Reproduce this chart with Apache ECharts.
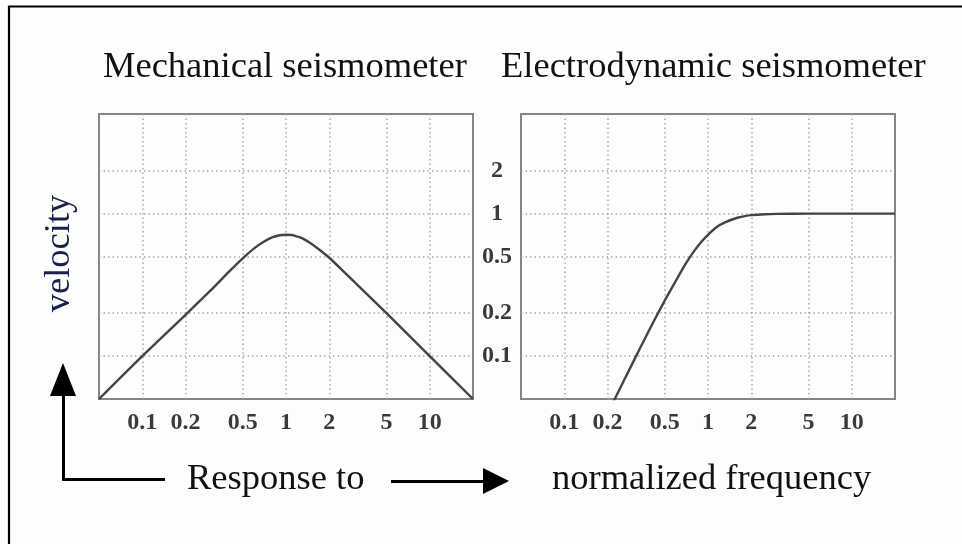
<!DOCTYPE html>
<html>
<head>
<meta charset="utf-8">
<title>Seismometer response</title>
<script src="https://cdn.jsdelivr.net/npm/echarts@6/dist/echarts.min.js"></script>
<style>
  html, body { margin: 0; padding: 0; background: #fdfdfd; }
  #chart { width: 962px; height: 544px; }
</style>
</head>
<body>
<div id="chart"></div>
<script>
// normalized frequency / velocity response
const freqMech = [0.05, 0.1, 0.2, 0.3, 0.4, 0.5, 0.6, 0.7, 0.8, 0.9, 1, 1.1, 1.2, 1.3, 1.5, 1.7, 2, 2.5, 3, 5, 10, 20]
const velMech = [0.05, 0.1, 0.195, 0.29, 0.39, 0.485, 0.57, 0.635, 0.68, 0.705, 0.71, 0.708, 0.69, 0.67, 0.615, 0.56, 0.49, 0.395, 0.33, 0.2, 0.1, 0.05]

const freqElec = [0.22, 0.3, 0.4, 0.5, 0.6, 0.7, 0.8, 0.9, 1, 1.15, 1.3, 1.6, 1.8, 2, 2.5, 3, 5, 10, 20]
const velElec = [0.048, 0.09, 0.16, 0.245, 0.34, 0.445, 0.545, 0.635, 0.71, 0.805, 0.865, 0.935, 0.96, 0.975, 0.99, 0.995, 1, 1, 1]

const xTicks = [0.1, 0.2, 0.5, 1, 2, 5, 10]
const yTicks = [0.1, 0.2, 0.5, 1, 2]

const titles = ['Mechanical seismometer', 'Electrodynamic seismometer']
const yName = 'velocity'
const xNameLeft = 'Response to'
const xNameRight = 'normalized frequency'

const serif = '"Liberation Serif", "DejaVu Serif", serif'
const bigFont = '36.5px ' + serif
const lineColor = '#444'

function pairs (xs, ys) {
  return xs.map((x, i) => [x, ys[i]])
}

function tickLabel (show, extra) {
  return Object.assign({
    show: show,
    fontFamily: serif,
    fontSize: 24,
    fontWeight: 'bold',
    color: '#3a3a3a'
  }, extra)
}

const dotted = { color: '#a8a8a8', width: 1.5, type: [1.5, 3] }

function makeX (idx) {
  return {
    type: 'log',
    logBase: 10,
    gridIndex: idx,
    min: 0.05,
    max: 20,
    axisLine: { show: false },
    axisTick: { show: false, customValues: xTicks },
    axisLabel: tickLabel(true, { customValues: xTicks, margin: 12 }),
    splitLine: { show: true, lineStyle: dotted }
  }
}

function makeY (idx, showLabels) {
  return {
    type: 'log',
    logBase: 10,
    gridIndex: idx,
    min: 0.05,
    max: 5,
    axisLine: { show: false },
    axisTick: { show: false, customValues: yTicks },
    axisLabel: tickLabel(showLabels, { customValues: yTicks, align: 'center', margin: 24 }),
    splitLine: { show: true, lineStyle: dotted }
  }
}

const chart = echarts.init(document.getElementById('chart'), null, { renderer: 'canvas' })

const option = {
  backgroundColor: '#fdfdfd',
  animation: false,
  grid: [
    { left: 99, top: 114, width: 374, height: 285, show: true, borderColor: '#858585', borderWidth: 2 },
    { left: 521, top: 114, width: 374, height: 285, show: true, borderColor: '#858585', borderWidth: 2 }
  ],
  xAxis: [makeX(0), makeX(1)],
  yAxis: [makeY(0, false), makeY(1, true)],
  series: [
    {
      type: 'line',
      xAxisIndex: 0,
      yAxisIndex: 0,
      data: pairs(freqMech, velMech),
      smooth: 0.25,
      symbol: 'none',
      lineStyle: { color: lineColor, width: 2.4 }
    },
    {
      type: 'line',
      xAxisIndex: 1,
      yAxisIndex: 1,
      data: pairs(freqElec, velElec),
      smooth: 0.25,
      symbol: 'none',
      lineStyle: { color: lineColor, width: 2.4 }
    }
  ],
  graphic: [
    // frame of the figure (top and left edge only)
    {
      type: 'polyline',
      shape: { points: [[9, 544], [9, 6.5], [962, 6.5]] },
      style: { stroke: '#000', lineWidth: 2.2, fill: null }
    },
    {
      type: 'text',
      x: 103, y: 67.5,
      style: { text: titles[0], font: bigFont, fill: '#111', textVerticalAlign: 'middle' }
    },
    {
      type: 'text',
      x: 501, y: 67.5,
      style: { text: titles[1], font: bigFont, fill: '#111', textVerticalAlign: 'middle' }
    },
    {
      type: 'text',
      x: 59, y: 253.5,
      rotation: Math.PI / 2,
      style: { text: yName, font: bigFont, fill: '#17204f', textAlign: 'center', textVerticalAlign: 'middle' }
    },
    {
      type: 'text',
      x: 187, y: 479.5,
      style: { text: xNameLeft, font: bigFont, fill: '#111', textVerticalAlign: 'middle' }
    },
    {
      type: 'text',
      x: 552, y: 479.5,
      style: { text: xNameRight, font: bigFont, fill: '#111', textVerticalAlign: 'middle' }
    },
    // L-shaped arrow pointing up
    {
      type: 'polyline',
      shape: { points: [[63.5, 394], [63.5, 479.5], [165, 479.5]] },
      style: { stroke: '#000', lineWidth: 3, fill: null }
    },
    {
      type: 'polygon',
      shape: { points: [[50, 396], [76, 396], [63, 363]] },
      style: { fill: '#000' }
    },
    // arrow pointing right
    {
      type: 'line',
      shape: { x1: 391, y1: 481.5, x2: 485, y2: 481.5 },
      style: { stroke: '#000', lineWidth: 3 }
    },
    {
      type: 'polygon',
      shape: { points: [[483, 468], [483, 494], [509, 481]] },
      style: { fill: '#000' }
    }
  ]
}

chart.setOption(option)
</script>
</body>
</html>
